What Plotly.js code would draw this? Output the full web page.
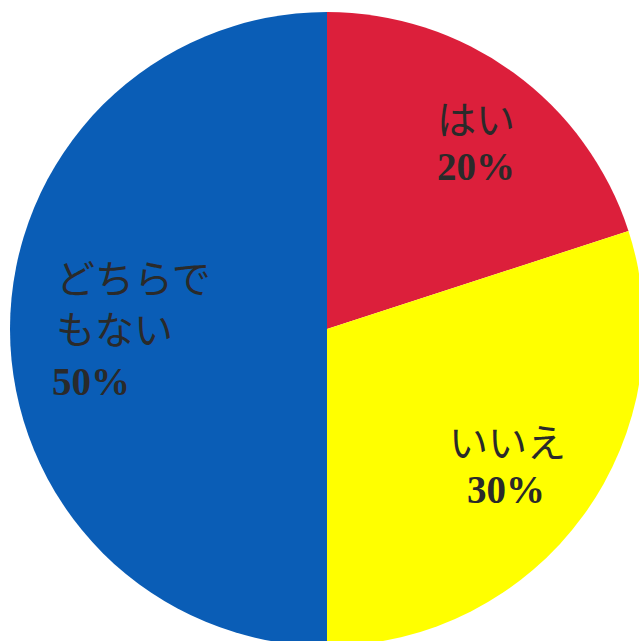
<!DOCTYPE html>
<html>
<head>
<meta charset="utf-8">
<script src="https://cdn.plot.ly/plotly-3.0.1.min.js"></script>
<style>
html,body{margin:0;padding:0;width:639px;height:641px;overflow:hidden;background:#fff;}
#chart{position:absolute;left:10px;top:12px;width:634px;height:634px;}
</style>
</head>
<body>
<div id="chart"></div>
<script>
const categories = ["はい", "いいえ", "どちらでもない"];
const values = [20, 30, 50];
const colors = ["#dc1f3b", "#ffff00", "#0a5db6"];
const nameLines = [["はい"], ["いいえ"], ["どちらで", "もない"]];
const percentLabels = values.map(v => v + "%");

const W = 634, H = 634, OX = 10, OY = 12;
function px(x){ return (x - OX) / W; }
function py(y){ return 1 - (y - OY) / H; }

const kanaFont = {family: "Noto Sans CJK JP", size: 39, color: "#2a2a2a"};
const pctFont = {family: "Liberation Serif", size: 39, color: "#2a2a2a", weight: "bold"};

const annotations = [];
// はい
annotations.push({x: px(476), y: py(117), text: nameLines[0][0], font: kanaFont, xanchor: "center", yanchor: "middle"});
annotations.push({x: px(476), y: py(166), text: "<b>" + percentLabels[0] + "</b>", font: pctFont, xanchor: "center", yanchor: "middle"});
// いいえ
annotations.push({x: px(507), y: py(440), text: nameLines[1][0], font: kanaFont, xanchor: "center", yanchor: "middle"});
annotations.push({x: px(506), y: py(489), text: "<b>" + percentLabels[1] + "</b>", font: pctFont, xanchor: "center", yanchor: "middle"});
// どちらでもない (two lines in one text)
annotations.push({x: px(54), y: py(301), text: nameLines[2].join("<br>"), font: kanaFont, xanchor: "left", yanchor: "middle", align: "left"});
annotations.push({x: px(50), y: py(381), text: "<b>" + percentLabels[2] + "</b>", font: pctFont, xanchor: "left", yanchor: "middle"});
annotations.forEach(a => { a.xref = "paper"; a.yref = "paper"; a.showarrow = false; });

const trace = {
  type: "pie",
  labels: categories,
  values: values,
  sort: false,
  direction: "clockwise",
  rotation: 0,
  textinfo: "none",
  hoverinfo: "label+percent",
  marker: {colors: colors, line: {width: 0}},
  domain: {x: [0, 1], y: [0, 1]}
};

const layout = {
  width: W, height: H,
  margin: {l: 0, r: 0, t: 0, b: 0},
  showlegend: false,
  paper_bgcolor: "rgba(0,0,0,0)",
  annotations: annotations
};

Plotly.newPlot("chart", [trace], layout, {displayModeBar: false, staticPlot: true});
</script>
</body>
</html>
